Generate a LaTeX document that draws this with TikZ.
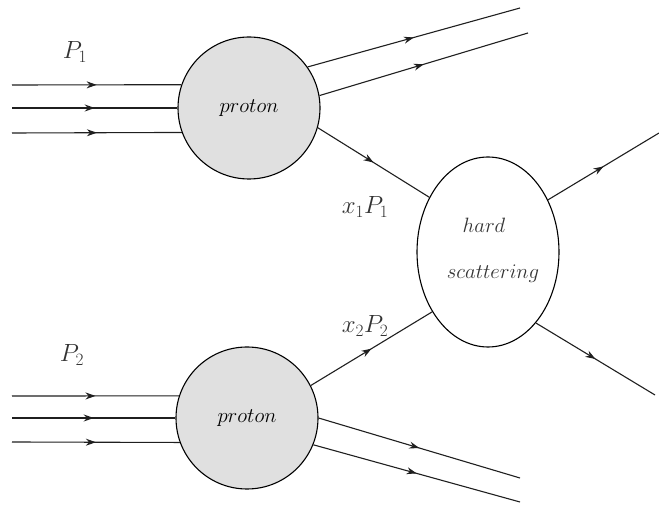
\documentclass[tikz,border=0pt]{standalone}
\usetikzlibrary{arrows.meta,decorations.markings,shapes.geometric}
\begin{document}
\begin{tikzpicture}[x=1pt,y=1pt,
  line/.style={draw=black!88,line width=1.1pt,
    postaction={decorate},
    decoration={markings,mark=at position 0.5 with {\arrow{Stealth[length=10pt,width=7pt]}}}},
  proton/.style={circle,draw=black,line width=1.1pt,fill=black!12,minimum size=142pt,inner sep=0pt,font=\fontsize{20.7}{24}\selectfont},
  hardbox/.style={ellipse,draw=black,line width=1.1pt,minimum width=142pt,minimum height=190pt,inner sep=0pt},
  intext/.style={font=\fontsize{20.7}{24}\selectfont,text=black!80},
  lbl/.style={font=\fontsize{25}{30}\selectfont,text=black!80}]
\useasboundingbox (0,0) rectangle (659,506);
\node[proton] (p1) at (249,398) {$proton$};
\node[proton] (p2) at (247,88) {$proton$};
\node[hardbox] (hs) at (488,254) {};
\node[intext] (thard) at (484,281) {$hard$};
\node[intext] (tscat) at (493,232) {$scattering$};
\node[lbl] (lp1) at (75,454) {$P_1$};
\node[lbl] (lp2) at (72,151) {$P_2$};
\node[lbl] (lx1) at (365,299) {$x_1P_1$};
\node[lbl] (lx2) at (365,180) {$x_2P_2$};
% free ends
\coordinate (a1) at (12,421);
\coordinate (a2) at (12,398);
\coordinate (a3) at (12,373);
\coordinate (b1) at (12,110);
\coordinate (b2) at (12,88);
\coordinate (b3) at (12,64);
\coordinate (o1) at (520,498);
\coordinate (o2) at (528,473);
\coordinate (o3) at (520,28);
\coordinate (o4) at (520,4);
\coordinate (h1) at (659,373);
\coordinate (h2) at (655,111);
% connectors
\draw[line] (a1) -- (p1.161);
\draw[line] (a2) -- (p1.180);
\draw[line] (a3) -- (p1.200);
\draw[line] (b1) -- (p2.162);
\draw[line] (b2) -- (p2.180);
\draw[line] (b3) -- (p2.200);
\draw[line] (p1.35) -- (o1);
\draw[line] (p1.10) -- (o2);
\draw[line] (p2.0) -- (o3);
\draw[line] (p2.-22) -- (o4);
\draw[line] (p1.-16) -- (hs.137);
\draw[line] (p2.27) -- (hs.227);
\draw[line] (hs.41) -- (h1);
\draw[line] (hs.-56) -- (h2);
\end{tikzpicture}
\end{document}
